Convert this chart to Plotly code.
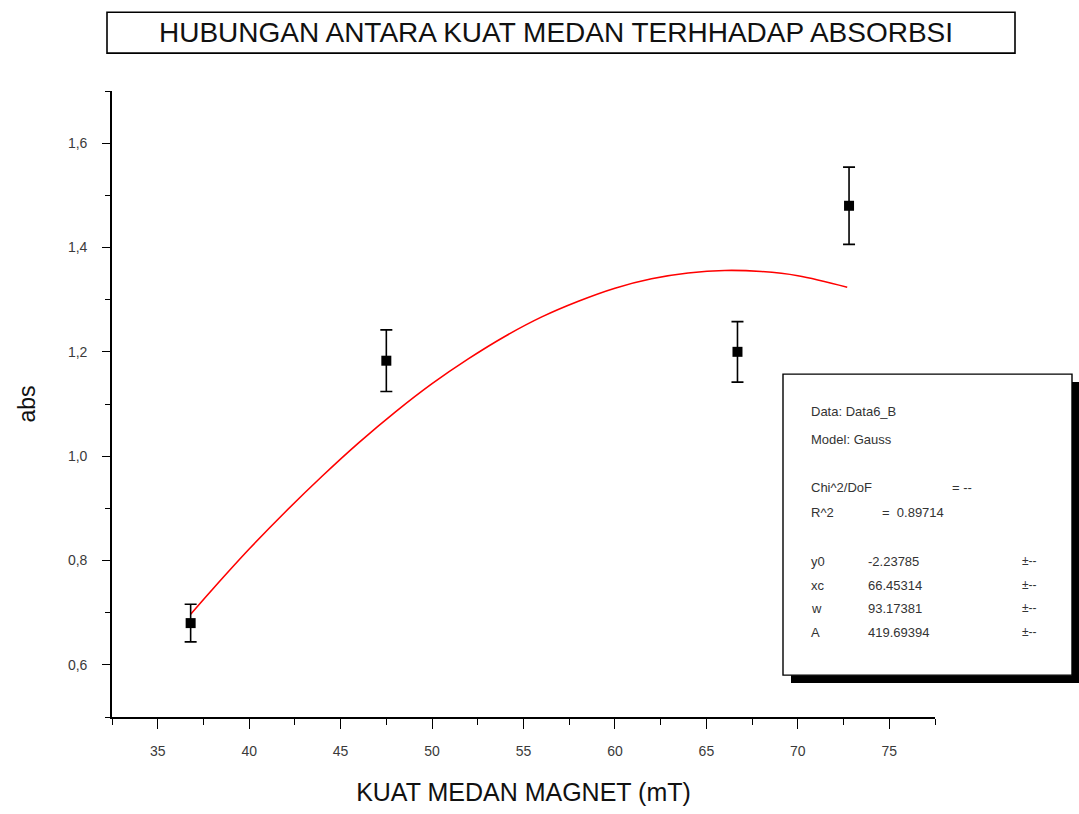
import plotly.graph_objects as go

# ---- data ----
field_mT = [36.8, 47.5, 66.7, 72.8]
absorb = [0.680, 1.183, 1.200, 1.480]
absorb_err = [0.036, 0.059, 0.058, 0.074]

fit_x = [36.8, 38, 40, 42, 44, 46, 48, 50, 52, 54, 56, 58, 60, 62, 64, 66, 68, 70, 72.7]
fit_y = [0.697, 0.745, 0.822, 0.894, 0.962, 1.026, 1.085, 1.139, 1.187, 1.230,
         1.267, 1.297, 1.322, 1.340, 1.351, 1.356, 1.354, 1.346, 1.324]

title_text = "HUBUNGAN ANTARA KUAT MEDAN TERHHADAP ABSORBSI"
x_title = "KUAT MEDAN MAGNET (mT)"
y_title = "abs"

legend_rows = [
    ("Data: Data6_B", "", ""),
    ("Model: Gauss", "", ""),
    ("", "", ""),
    ("Chi^2/DoF", "= --", ""),
    ("R^2", "=  0.89714", ""),
    ("", "", ""),
    ("y0", "-2.23785", "±--"),
    ("xc", "66.45314", "±--"),
    ("w", "93.17381", "±--"),
    ("A", "419.69394", "±--"),
]

W, H = 1079, 814
L, R, T, B = 112, 935, 91, 719

def fx(px):
    return (px - L) / (R - L)

def fy(py):
    return (B - py) / (B - T)

FONT = "Liberation Sans, Arial, sans-serif"

fig = go.Figure()
fig.add_trace(go.Scatter(
    x=fit_x, y=fit_y, mode="lines",
    line=dict(color="#ff0000", width=1.6, shape="spline"),
    showlegend=False, hoverinfo="skip"))
fig.add_trace(go.Scatter(
    x=field_mT, y=absorb, mode="markers",
    marker=dict(symbol="square", size=10, color="black"),
    error_y=dict(type="data", array=absorb_err, visible=True,
                 color="black", thickness=1.6, width=6),
    showlegend=False))

axis_common = dict(
    showline=True, linecolor="black", linewidth=1.6, mirror=False,
    showgrid=False, zeroline=False, ticks="outside", tickcolor="black",
    tickwidth=1.4, tickfont=dict(family=FONT, size=14, color="#3a3a3a"),
)

fig.update_xaxes(
    range=[32.5, 77.5], tick0=0, dtick=5, ticklen=10,
    minor=dict(dtick=2.5, tick0=0, ticklen=6, ticks="outside", tickcolor="black", tickwidth=1.4),
    ticklabelstandoff=10,
    title=dict(text=x_title, font=dict(family=FONT, size=25, color="#111"), standoff=26),
    **axis_common)
fig.update_yaxes(
    range=[0.5, 1.7], tick0=0.2, dtick=0.2, ticklen=8, tickformat=".1f",
    minor=dict(dtick=0.1, tick0=0, ticklen=5, ticks="outside", tickcolor="black", tickwidth=1.4),
    ticklabelstandoff=12,
    title=dict(text=y_title, font=dict(family=FONT, size=23, color="#111"), standoff=26),
    **axis_common)

shapes = []
# title box
shapes.append(dict(type="rect", xref="paper", yref="paper",
                   x0=fx(107), x1=fx(1015), y0=fy(53), y1=fy(12),
                   line=dict(color="black", width=1.6), fillcolor="white", layer="below"))
# legend shadow + box
shapes.append(dict(type="rect", xref="paper", yref="paper",
                   x0=fx(791), x1=fx(1079), y0=fy(685), y1=fy(383),
                   line=dict(width=0), fillcolor="black"))
shapes.append(dict(type="rect", xref="paper", yref="paper",
                   x0=fx(783), x1=fx(1072), y0=fy(677), y1=fy(375),
                   line=dict(color="black", width=1.4), fillcolor="white"))

annotations = [dict(
    text=title_text, xref="paper", yref="paper", x=fx(556), y=fy(32),
    xanchor="center", yanchor="middle", showarrow=False,
    font=dict(family=FONT, size=28, color="#111"))]

row_y = [413, 441, 465, 489, 514, 538, 563, 587, 610, 634]
for (a, b, c), py in zip(legend_rows, row_y):
    if a:
        annotations.append(dict(text=a, xref="paper", yref="paper", x=fx(809), y=fy(py),
                                xanchor="left", yanchor="middle", showarrow=False,
                                font=dict(family=FONT, size=13, color="#333")))
    if b:
        bx = 950 if a.startswith("Chi") else (880 if a == "R^2" else 866)
        annotations.append(dict(text=b, xref="paper", yref="paper", x=fx(bx), y=fy(py),
                                xanchor="left", yanchor="middle", showarrow=False,
                                font=dict(family=FONT, size=13, color="#333")))
    if c:
        annotations.append(dict(text=c, xref="paper", yref="paper", x=fx(1020), y=fy(py),
                                xanchor="left", yanchor="middle", showarrow=False,
                                font=dict(family=FONT, size=12, color="#333")))

fig.update_layout(
    width=W, height=H,
    margin=dict(l=L, r=W - R, t=T, b=H - B, pad=0),
    paper_bgcolor="white", plot_bgcolor="white",
    separators=",.",
    shapes=shapes, annotations=annotations,
    font=dict(family=FONT),
)

fig.write_html("out.html")
